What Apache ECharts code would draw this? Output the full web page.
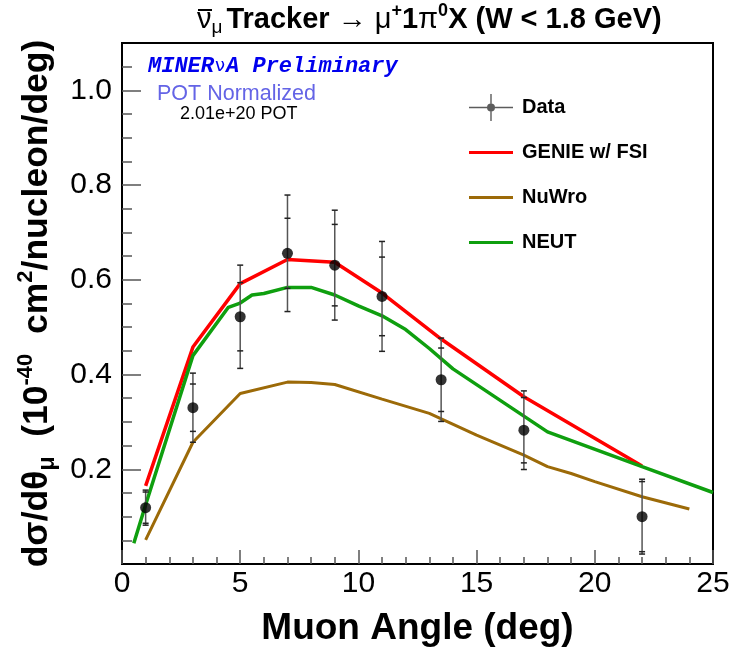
<!DOCTYPE html>
<html><head><meta charset="utf-8">
<script src="https://cdn.jsdelivr.net/npm/echarts@6/dist/echarts.min.js"></script>
<style>html,body{margin:0;padding:0;background:#fff}#c{width:737px;height:652px}</style>
</head><body><div id="c"></div>
<script>
// ---- data ----
const dataX   = [1, 3, 5, 7, 9, 11, 13.5, 17, 22];
const dataY   = [0.119, 0.330, 0.522, 0.656, 0.631, 0.565, 0.389, 0.2825, 0.100];
const statErr = [0.033, 0.050, 0.072, 0.074, 0.086, 0.083, 0.067, 0.069, 0.074];
const totErr  = [0.037, 0.073, 0.109, 0.123, 0.116, 0.116, 0.088, 0.083, 0.079];

const genieX = [1, 3, 5, 7, 9, 11, 13.5, 17, 22];
const genieY = [0.165, 0.458, 0.592, 0.643, 0.637, 0.572, 0.475, 0.353, 0.207];

const nuwroX = [1, 3, 5, 7, 8, 9, 11, 13, 15, 17, 18, 19, 20, 22, 24];
const nuwroY = [0.051, 0.257, 0.360, 0.384, 0.383, 0.379, 0.348, 0.318, 0.272, 0.230, 0.2055, 0.191, 0.174, 0.142, 0.116];

const neutX = [0.5, 1, 3, 4.5, 5, 5.5, 6, 7, 8, 9, 10, 11, 12, 13, 14, 18, 22, 25];
const neutY = [0.044, 0.125, 0.440, 0.542, 0.551, 0.568, 0.571, 0.584, 0.584, 0.568, 0.545, 0.524, 0.495, 0.455, 0.412, 0.279, 0.2055, 0.151];

const xMajorTicks = [0, 5, 10, 15, 20, 25];
const xMinorTicks = [1, 2, 3, 4, 6, 7, 8, 9, 11, 12, 13, 14, 16, 17, 18, 19, 21, 22, 23, 24];
const yMajorTicks = [0.2, 0.4, 0.6, 0.8, 1.0];
const yMinorTicks = [0.05, 0.1, 0.15, 0.25, 0.3, 0.35, 0.45, 0.5, 0.55, 0.65, 0.7, 0.75, 0.85, 0.9, 0.95, 1.05];

const legendNames = ['Data', 'GENIE w/ FSI', 'NuWro', 'NEUT'];

// ---- build ----
const FONT = 'Liberation Sans, Arial, sans-serif';
const pair = (xs, ys) => xs.map((x, i) => [x, ys[i]]);
const errData = dataX.map((x, i) => [x, dataY[i], statErr[i], totErr[i]]);

const chart = echarts.init(document.getElementById('c'), null, {renderer: 'canvas'});

const baseX = {type: 'value', min: 0, max: 25, splitLine: {show: false}};
const baseY = {type: 'value', min: 0, max: 1.1, splitLine: {show: false}};

const option = {
  animation: false,
  backgroundColor: '#fff',
  grid: {left: 122, right: 24, top: 43, bottom: 88, show: true, borderColor: '#000', borderWidth: 2, backgroundColor: 'transparent'},
  legend: {
    orient: 'vertical', left: 464, top: 89,
    itemWidth: 44, itemHeight: 27, itemGap: 18,
    selectedMode: false,
    textStyle: {fontFamily: FONT, fontSize: 20, fontWeight: 'bold', color: '#000', lineHeight: 27, padding: [0, 0, 0, 4]},
    data: [
      {name: legendNames[0], icon: 'path://M0,12.8 H44 V14.2 H0 Z M21.3,0 H22.7 V27 H21.3 Z M26,13.5 A4,4 0 1 1 18,13.5 A4,4 0 1 1 26,13.5 Z', itemStyle: {color: '#333'}},
      {name: legendNames[1], icon: 'path://M0,0 H44 V3 H0 Z'},
      {name: legendNames[2], icon: 'path://M0,0 H44 V3 H0 Z'},
      {name: legendNames[3], icon: 'path://M0,0 H44 V3 H0 Z'}
    ]
  },
  xAxis: [
    Object.assign({}, baseX, {
      name: 'Muon Angle (deg)', nameLocation: 'middle', nameGap: 46,
      nameTextStyle: {fontFamily: FONT, fontSize: 37, fontWeight: 'bold', color: '#000'},
      axisLine: {show: false},
      axisTick: {show: true, inside: true, length: 14, customValues: xMajorTicks, lineStyle: {color: '#555', width: 1.5}},
      axisLabel: {customValues: xMajorTicks, fontFamily: FONT, fontSize: 30, color: '#000', margin: 5}
    }),
    Object.assign({}, baseX, {
      position: 'bottom',
      axisLine: {show: false}, axisLabel: {show: false},
      axisTick: {show: true, inside: true, length: 7, customValues: xMinorTicks, lineStyle: {color: '#555', width: 1.5}}
    })
  ],
  yAxis: [
    Object.assign({}, baseY, {
      name: '{b|d\u03c3/d\u03b8}{sub|\u03bc}{b|  (10}{sup|-40}{b|  cm}{sup|2}{b|/nucleon/deg)}',
      nameLocation: 'middle', nameRotate: 90, nameGap: 55,
      nameTextStyle: {
        rich: {
          b:   {fontFamily: FONT, fontSize: 35.5, fontWeight: 'bold', lineHeight: 44, color: '#000'},
          sup: {fontFamily: FONT, fontSize: 22, fontWeight: 'bold', lineHeight: 22, verticalAlign: 'top', color: '#000'},
          sub: {fontFamily: FONT, fontSize: 23, fontWeight: 'bold', lineHeight: 22, verticalAlign: 'bottom', color: '#000'}
        }
      },
      axisLine: {show: false},
      axisTick: {show: true, inside: true, length: 19, customValues: yMajorTicks, lineStyle: {color: '#555', width: 1.5}},
      axisLabel: {customValues: yMajorTicks, formatter: v => v.toFixed(1), fontFamily: FONT, fontSize: 30, color: '#000', margin: 10}
    }),
    Object.assign({}, baseY, {
      position: 'left',
      axisLine: {show: false}, axisLabel: {show: false},
      axisTick: {show: true, inside: true, length: 10, customValues: yMinorTicks, lineStyle: {color: '#555', width: 1.5}}
    })
  ],
  graphic: [
    {type: 'text', left: 197, top: 2, z: 10,
     style: {
       text: '{nu|\u03bd}{sub|\u03bc}{b|Tracker }{s|\u2192 \u03bc}{sup|+}{b|1}{s|\u03c0}{sup|0}{b|X (W < 1.8 GeV)}',
       rich: {
         nu:  {fontFamily: FONT, fontSize: 29, lineHeight: 35, fill: '#000'},
         b:   {fontFamily: FONT, fontSize: 29, fontWeight: 'bold', lineHeight: 35, fill: '#000'},
         s:   {fontFamily: FONT, fontSize: 29, lineHeight: 35, fill: '#000'},
         sup: {fontFamily: FONT, fontSize: 18, fontWeight: 'bold', lineHeight: 21, verticalAlign: 'top', fill: '#000'},
         sub: {fontFamily: FONT, fontSize: 19, lineHeight: 20, verticalAlign: 'bottom', fill: '#000', padding: [0, 4, 0, 0]}
       }}},
    {type: 'rect', left: 198, top: 9, z: 10, shape: {width: 14, height: 2}, style: {fill: '#000'}},
    {type: 'text', left: 148, top: 55, z: 10,
     style: {text: '{m|MINER}{v|\u03bd}{m|A Preliminary}',
       rich: {
         m: {fontFamily: 'Liberation Mono, Courier New, monospace', fontSize: 22, fontWeight: 'bold', fontStyle: 'italic', fill: '#0000ee'},
         v: {fontFamily: 'DejaVu Sans, sans-serif', fontSize: 18, fill: '#0000ee', padding: [0, 1, 0, 1]}
       }}},
    {type: 'text', left: 157, top: 83, z: 10,
     style: {text: 'POT Normalized', font: '21.5px Liberation Sans, Arial, sans-serif', fill: '#6464e6'}},
    {type: 'text', left: 180, top: 105, z: 10,
     style: {text: '2.01e+20 POT', font: '18px Liberation Sans, Arial, sans-serif', fill: '#000'}}
  ],
  series: [
    {name: legendNames[1], type: 'line', data: pair(genieX, genieY), showSymbol: false, symbol: 'none',
     lineStyle: {color: '#ff0000', width: 3.5}, itemStyle: {color: '#ff0000'}, z: 3},
    {name: legendNames[2], type: 'line', data: pair(nuwroX, nuwroY), showSymbol: false, symbol: 'none',
     lineStyle: {color: '#9c6a08', width: 3}, itemStyle: {color: '#9c6a08'}, z: 3},
    {name: legendNames[3], type: 'line', data: pair(neutX, neutY), showSymbol: false, symbol: 'none',
     lineStyle: {color: '#0f9f0f', width: 3.5}, itemStyle: {color: '#0f9f0f'}, z: 4},
    {name: 'DataErr', type: 'custom', data: errData, z: 5,
     renderItem: function (params, api) {
       const x = api.value(0), y = api.value(1), s = api.value(2), t = api.value(3);
       const top = api.coord([x, y + t]), bot = api.coord([x, y - t]);
       const st = api.coord([x, y + s]), sb = api.coord([x, y - s]);
       const cap = 3;
       const mk = (p, c) => ({type: 'line', shape: {x1: p[0] - cap, y1: p[1], x2: p[0] + cap, y2: p[1]}, style: {stroke: c, lineWidth: 1.5}});
       return {type: 'group', children: [
         {type: 'line', shape: {x1: top[0], y1: top[1], x2: bot[0], y2: bot[1]}, style: {stroke: '#555', lineWidth: 1.5}},
         mk(top, '#222'), mk(bot, '#222'), mk(st, '#222'), mk(sb, '#222')
       ]};
     }},
    {name: legendNames[0], type: 'scatter', data: pair(dataX, dataY), symbol: 'circle', symbolSize: 11,
     itemStyle: {color: '#000'}, z: 6}
  ]
};
chart.setOption(option);
</script>
</body></html>
